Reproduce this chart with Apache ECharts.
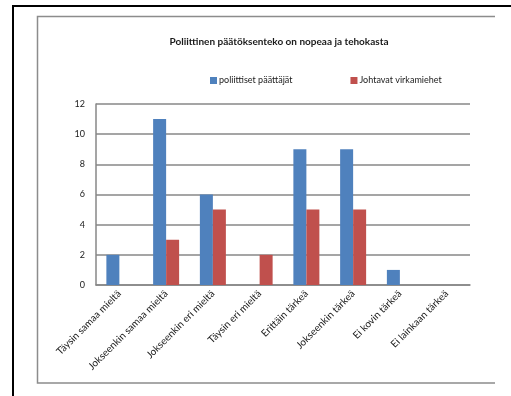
<!DOCTYPE html>
<html>
<head>
<meta charset="utf-8">
<script src="https://cdn.jsdelivr.net/npm/echarts@6/dist/echarts.min.js"></script>
<style>
  html, body { margin: 0; padding: 0; background: #ffffff; }
  #chart { width: 511px; height: 396px; }
</style>
</head>
<body>
<div id="chart"></div>
<script>
// Survey answers per response category
const categories = [
  'Täysin samaa mieltä',
  'Jokseenkin samaa mieltä',
  'Jokseenkin eri mieltä',
  'Täysin eri mieltä',
  'Erittäin tärkeä',
  'Jokseenkin tärkeä',
  'Ei kovin tärkeä',
  'Ei lainkaan tärkeä'
];
const seriesNames = ['poliittiset päättäjät', 'Johtavat virkamiehet'];
const politicians = [2, 11, 6, 0, 9, 9, 1, 0];
const officials = [0, 3, 5, 2, 5, 5, 0, 0];
const yTicks = { min: 0, max: 12, interval: 2 };

const FONT = 'Lato, "Liberation Sans", sans-serif';
const GRID_GRAY = '#878787';

const chart = echarts.init(document.getElementById('chart'), null, { renderer: 'canvas' });

chart.setOption({
  backgroundColor: '#ffffff',
  animation: false,
  title: {
    text: 'Poliittinen päätöksenteko on nopeaa ja tehokasta',
    left: 274,
    textAlign: 'center',
    top: 32,
    textStyle: { fontFamily: FONT, fontSize: 10, fontWeight: 'bold', color: '#1a1a1a' }
  },
  legend: {
    left: 205,
    top: 71,
    itemWidth: 7,
    itemHeight: 7,
    itemGap: 58,
    icon: 'rect',
    textStyle: { fontFamily: FONT, fontSize: 9, color: '#1a1a1a', padding: [0, 0, 0, -3] },
    data: seriesNames
  },
  grid: { left: 96, top: 104, right: 41, bottom: 111 },
  xAxis: {
    type: 'category',
    data: categories,
    axisLine: { show: true, lineStyle: { color: GRID_GRAY, width: 1.5 } },
    axisTick: { show: false },
    axisLabel: {
      rotate: 45,
      interval: 0,
      margin: 7,
      fontFamily: FONT,
      fontSize: 10,
      color: '#1a1a1a'
    }
  },
  yAxis: {
    type: 'value',
    min: yTicks.min,
    max: yTicks.max,
    interval: yTicks.interval,
    axisLine: { show: true, lineStyle: { color: GRID_GRAY, width: 1.5 } },
    axisTick: { show: false },
    axisLabel: { fontFamily: FONT, fontSize: 9, color: '#1a1a1a', margin: 11 },
    splitLine: { show: true, lineStyle: { color: GRID_GRAY, width: 1.5 } }
  },
  series: [
    {
      name: seriesNames[0],
      type: 'bar',
      data: politicians,
      barWidth: 13,
      barGap: '0%',
      itemStyle: { color: '#4f81bd' }
    },
    {
      name: seriesNames[1],
      type: 'bar',
      data: officials,
      barWidth: 13,
      itemStyle: { color: '#c0504d' }
    }
  ],
  graphic: [
    // outer black frame (top and left edges)
    { type: 'polyline', silent: true,
      shape: { points: [[13, 396], [13, 6], [511, 6]] },
      style: { stroke: '#000000', lineWidth: 2, fill: null } },
    // chart area frame (grey, open on the right)
    { type: 'polyline', silent: true,
      shape: { points: [[495, 16.5], [37.5, 16.5], [37.5, 383], [495, 383]] },
      style: { stroke: '#8c8c8c', lineWidth: 1.5, fill: null } }
  ]
});
</script>
</body>
</html>
